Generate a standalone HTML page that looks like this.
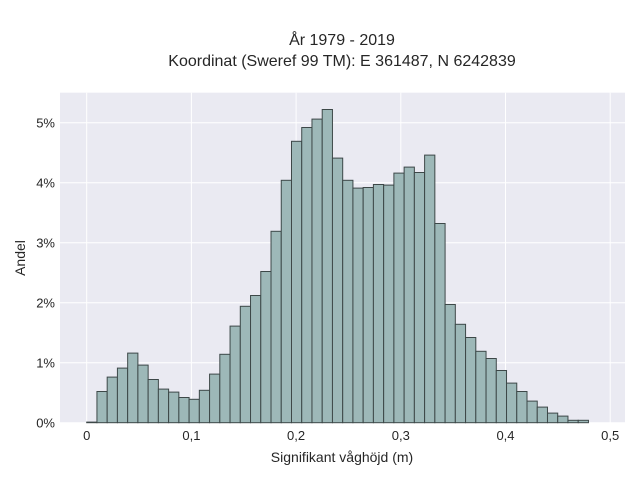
<!DOCTYPE html>
<html><head><meta charset="utf-8"><style>
body{margin:0;background:#fff;}
svg text{font-family:"Liberation Sans",sans-serif;fill:#262626;}
</style></head><body>
<svg width="640" height="480" viewBox="0 0 640 480">
<rect x="60" y="92.7" width="565" height="330" fill="#eaeaf2"/>
<g id="grid"></g>
<g id="bars"></g>
<g id="ticks"></g>
<text x="342" y="45" text-anchor="middle" font-size="16">År 1979 - 2019</text>
<text x="342" y="66" text-anchor="middle" font-size="16">Koordinat (Sweref 99 TM): E 361487, N 6242839</text>
<text x="342" y="462" text-anchor="middle" font-size="14">Signifikant våghöjd (m)</text>
<text x="25" y="258" text-anchor="middle" font-size="14" transform="rotate(-90 25 258)">Andel</text>
</svg>
<script>
const values = [0.01,0.52,0.76,0.91,1.16,0.96,0.72,0.56,0.51,0.42,0.39,0.54,0.81,1.14,1.61,1.94,2.12,2.52,3.19,4.04,4.69,4.92,5.06,5.22,4.41,4.04,3.91,3.92,3.97,3.96,4.16,4.26,4.17,4.46,3.32,1.97,1.64,1.42,1.19,1.07,0.87,0.66,0.52,0.36,0.26,0.16,0.11,0.04,0.04];
const binStart = 0;
const binWidth = 0.00978;
const xTicks = [0,0.1,0.2,0.3,0.4,0.5];
const xTickLabels = ["0","0,1","0,2","0,3","0,4","0,5"];
const yTicks = [0,1,2,3,4,5];
const yTickLabels = ["0%","1%","2%","3%","4%","5%"];
const NS="http://www.w3.org/2000/svg";
const xs = v => 86.7 + v*1047;
const ys = v => 422.7 - v*60;
const grid=document.getElementById('grid'), bars=document.getElementById('bars'), ticks=document.getElementById('ticks');
function mk(tag,attrs,parent){const e=document.createElementNS(NS,tag);for(const k in attrs)e.setAttribute(k,attrs[k]);parent.appendChild(e);return e;}
xTicks.forEach((t,i)=>{
  const l=mk('line',{x1:xs(t),x2:xs(t),y1:92.7,y2:422.7,stroke:'#fff','stroke-width':1},grid);
  
  
  const tx=mk('text',{x:xs(t),y:440,'text-anchor':'middle','font-size':13},ticks);
  tx.textContent=xTickLabels[i];
  
  
});
yTicks.forEach((t,i)=>{
  const l=mk('line',{x1:60,x2:625,y1:ys(t),y2:ys(t),stroke:'#fff','stroke-width':1},grid);
  
  
  const tx=mk('text',{x:55,y:ys(t)+5,'text-anchor':'end','font-size':13},ticks);
  tx.textContent=yTickLabels[i];
  
  
});
values.forEach((v,i)=>{
  const x0=xs(binStart+i*binWidth), x1=xs(binStart+(i+1)*binWidth);
  const r=mk('rect',{x:x0,y:ys(v),width:x1-x0,height:ys(0)-ys(v),fill:'#9db8b8',stroke:'#3d4848','stroke-width':1},bars);
  
  
});
</script>
</body></html>
